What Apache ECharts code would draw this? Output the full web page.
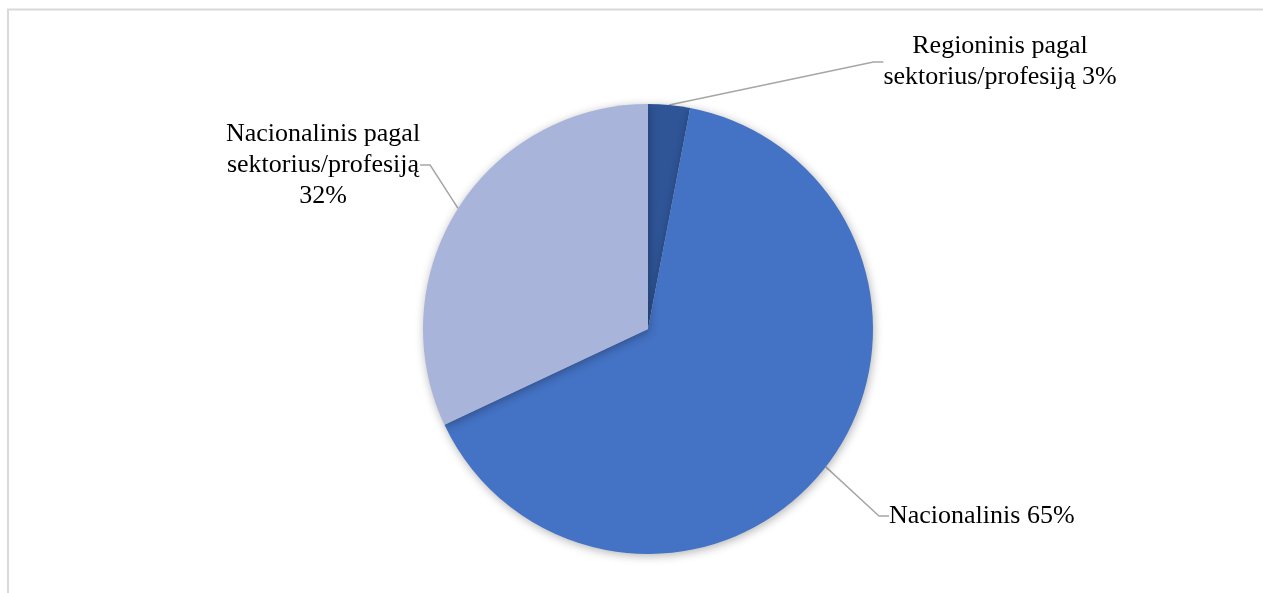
<!DOCTYPE html>
<html>
<head>
<meta charset="utf-8">
<script src="https://cdn.jsdelivr.net/npm/echarts@6/dist/echarts.min.js"></script>
<style>html,body{margin:0;padding:0;background:#fff;}#c{width:1263px;height:593px;}</style>
</head>
<body>
<div id="c"></div>
<script>
var categories = ['Regioninis pagal sektorius/profesiją', 'Nacionalinis', 'Nacionalinis pagal sektorius/profesiją'];
var labelTexts = ['Regioninis pagal\nsektorius/profesiją', 'Nacionalinis', 'Nacionalinis pagal\nsektorius/profesiją\n'];
var values = [3, 65, 32];
var colors = ['#2F5597', '#4472C4', '#A9B4DA'];

var chart = echarts.init(document.getElementById('c'));
var labelPos = [
  {x: 1000, y: 62, align: 'center'},
  {x: 889, y: 516, align: 'left'},
  {x: 323, y: 165, align: 'center'}
];
chart.setOption({
  animation: false,
  graphic: [{
    type: 'rect', shape: {x: 8, y: 9.5, width: 1300, height: 700},
    style: {fill: 'none', stroke: '#d9d9d9', lineWidth: 2}, silent: true
  }],
  series: [{
    type: 'pie',
    center: [648, 329],
    radius: 225,
    startAngle: 90,
    clockwise: true,
    data: categories.map(function (c, i) {
      return {name: c, value: values[i], itemStyle: {color: colors[i]}};
    }),
    itemStyle: {shadowBlur: 10, shadowColor: 'rgba(0,0,0,0.3)', shadowOffsetX: 1, shadowOffsetY: 2},
    label: {
      show: true,
      position: 'outside',
      fontFamily: 'Liberation Serif',
      fontSize: 26,
      lineHeight: 31,
      color: '#000',
      align: 'center',
      formatter: function (p) {
        var t = labelTexts[p.dataIndex];
        var sep = t.charAt(t.length - 1) === '\n' ? '' : ' ';
        return t + sep + p.value + '%';
      }
    },
    labelLine: {show: true, length: 15, length2: 10, lineStyle: {color: '#a6a6a6', width: 1.5}},
    labelLayout: function (params) {
      var p = labelPos[params.dataIndex];
      return {x: p.x, y: p.y, align: p.align, verticalAlign: 'middle'};
    }
  }]
});
</script>
</body>
</html>
